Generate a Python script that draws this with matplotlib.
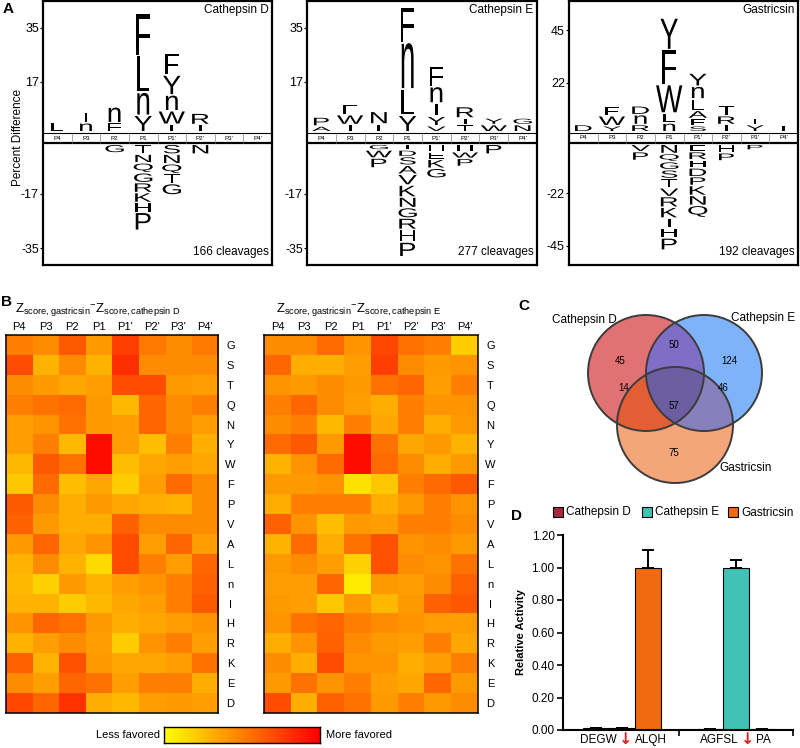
import numpy as np
import matplotlib
matplotlib.use("Agg")
import matplotlib.pyplot as plt
from matplotlib.textpath import TextPath
from matplotlib.patches import PathPatch, Rectangle, Circle
from matplotlib.font_manager import FontProperties
import matplotlib.transforms as mtrans

plt.rcParams['font.family'] = ['Liberation Sans', 'DejaVu Sans']
plt.rcParams['mathtext.fontset'] = 'custom'
plt.rcParams['mathtext.rm'] = 'Liberation Sans'
plt.rcParams['mathtext.it'] = 'Liberation Sans:italic'
plt.rcParams['mathtext.bf'] = 'Liberation Sans:bold'

# ---------------- DATA ----------------
positions = ["P4", "P3", "P2", "P1", "P1'", "P2'", "P3'", "P4'"]
logo_titles = ["Cathepsin D", "Cathepsin E", "Gastricsin"]
cleavage_counts = [166, 277, 192]
logo_tick_values = [[17, 35], [17, 35], [22, 45]]

# letters stacked from the band outward: (residue, percent)
catD_up = [[("L", 2.5)], [("n", 2.5), ("I", 3.0)], [("F", 2.5), ("n", 4.8)],
           [("Y", 5.0), ("n", 7.2), ("L", 11.7), ("F", 13.5)],
           [("I", 2.0), ("W", 4.0), ("n", 4.8), ("Y", 6.1), ("F", 6.9)],
           [("I", 1.9), ("R", 3.3)], [], []]
catD_down = [[], [], [("G", 2.4)],
             [("T", 2.8), ("N", 2.4), ("Q", 2.8), ("G", 2.8), ("R", 2.8), ("K", 2.8), ("H", 2.8), ("P", 5.5)],
             [("S", 2.8), ("N", 2.7), ("Q", 2.8), ("T", 2.8), ("G", 3.3)],
             [("N", 2.8)], [], []]
catE_up = [[("A", 1.4), ("P", 2.5)], [("I", 1.9), ("W", 2.8), ("F", 2.8)], [("I", 2.1), ("N", 3.7)],
           [("Y", 5.0), ("L", 8.3), ("n", 15.0), ("F", 11.1)],
           [("V", 1.5), ("Y", 2.7), ("I", 3.9), ("n", 5.0), ("F", 6.1)],
           [("T", 1.9), ("I", 1.7), ("R", 3.3)], [("W", 1.9), ("Y", 1.7)], [("N", 1.9), ("G", 1.7)]]
catE_down = [[], [], [("G", 1.4), ("W", 2.2), ("P", 2.8)],
             [("T", 1.4), ("D", 1.7), ("S", 2.4), ("A", 2.5), ("V", 3.1), ("K", 3.5), ("N", 3.0),
              ("G", 3.0), ("R", 3.3), ("H", 3.7), ("P", 4.4)],
             [("H", 2.0), ("E", 2.0), ("K", 2.5), ("G", 2.8)],
             [("H", 2.0), ("W", 1.7), ("P", 2.2)], [("P", 2.8)], []]
gast_up = [[("D", 2.5)], [("Y", 2.0), ("W", 3.7), ("F", 3.4)], [("R", 2.5), ("n", 3.7), ("D", 3.2)],
           [("n", 3.2), ("L", 3.7), ("W", 11.8), ("F", 14.7), ("Y", 13.2)],
           [("S", 2.0), ("F", 2.5), ("A", 2.9), ("L", 4.4), ("n", 4.9), ("Y", 5.1)],
           [("I", 2.5), ("R", 3.2), ("T", 4.1)], [("Y", 2.5), ("I", 2.0)], [("I", 2.0)]]
gast_down = [[], [], [("V", 2.6), ("P", 3.2)],
             [("N", 3.4), ("Q", 2.9), ("G", 2.9), ("S", 3.2), ("T", 3.4), ("V", 3.2), ("R", 4.0),
              ("K", 4.1), ("I", 3.7), ("H", 3.7), ("P", 4.7)],
             [("E", 2.6), ("R", 2.9), ("H", 2.9), ("D", 3.2), ("P", 3.2), ("K", 3.7), ("N", 3.7), ("Q", 4.7)],
             [("H", 3.1), ("P", 2.9)], [("P", 1.9)], []]

residues = list("GSTQNYWFPVALnIHRKED")
heat_titles = [r"$\mathregular{Z_{score,gastricsin}{}^{-}Z_{score,cathepsin\ D}}$",
               r"$\mathregular{Z_{score,gastricsin}{}^{-}Z_{score,cathepsin\ E}}$"]
hm_gast_catD = [
    [0.50, 0.45, 0.65, 0.40, 0.75, 0.52, 0.45, 0.52],
    [0.70, 0.30, 0.45, 0.30, 0.82, 0.45, 0.45, 0.45],
    [0.45, 0.40, 0.35, 0.38, 0.70, 0.70, 0.40, 0.38],
    [0.50, 0.55, 0.58, 0.40, 0.28, 0.60, 0.45, 0.50],
    [0.38, 0.42, 0.55, 0.40, 0.38, 0.60, 0.45, 0.38],
    [0.38, 0.50, 0.28, 0.95, 0.38, 0.25, 0.50, 0.32],
    [0.28, 0.65, 0.55, 0.95, 0.25, 0.35, 0.38, 0.35],
    [0.22, 0.58, 0.25, 0.35, 0.20, 0.38, 0.58, 0.45],
    [0.65, 0.45, 0.32, 0.40, 0.35, 0.32, 0.30, 0.45],
    [0.62, 0.40, 0.32, 0.32, 0.62, 0.45, 0.45, 0.45],
    [0.40, 0.60, 0.35, 0.42, 0.70, 0.38, 0.60, 0.38],
    [0.30, 0.45, 0.30, 0.15, 0.70, 0.50, 0.38, 0.60],
    [0.28, 0.18, 0.40, 0.30, 0.38, 0.42, 0.50, 0.62],
    [0.30, 0.30, 0.20, 0.28, 0.35, 0.38, 0.50, 0.65],
    [0.42, 0.60, 0.55, 0.40, 0.32, 0.35, 0.38, 0.42],
    [0.30, 0.38, 0.45, 0.38, 0.20, 0.42, 0.50, 0.38],
    [0.62, 0.30, 0.68, 0.40, 0.35, 0.35, 0.38, 0.55],
    [0.45, 0.38, 0.60, 0.55, 0.38, 0.50, 0.50, 0.32],
    [0.72, 0.60, 0.80, 0.32, 0.28, 0.38, 0.40, 0.38]]
hm_gast_catE = [
    [0.45, 0.45, 0.58, 0.42, 0.72, 0.55, 0.50, 0.20],
    [0.60, 0.32, 0.32, 0.38, 0.75, 0.45, 0.40, 0.42],
    [0.42, 0.40, 0.45, 0.40, 0.55, 0.60, 0.38, 0.50],
    [0.50, 0.60, 0.45, 0.38, 0.32, 0.50, 0.42, 0.42],
    [0.45, 0.50, 0.28, 0.50, 0.35, 0.50, 0.32, 0.40],
    [0.58, 0.65, 0.40, 0.95, 0.55, 0.35, 0.40, 0.30],
    [0.30, 0.42, 0.58, 0.95, 0.58, 0.45, 0.32, 0.40],
    [0.40, 0.40, 0.42, 0.12, 0.22, 0.50, 0.58, 0.65],
    [0.32, 0.50, 0.50, 0.50, 0.32, 0.40, 0.50, 0.42],
    [0.62, 0.42, 0.25, 0.40, 0.38, 0.50, 0.50, 0.45],
    [0.30, 0.58, 0.32, 0.55, 0.68, 0.42, 0.45, 0.40],
    [0.40, 0.45, 0.38, 0.18, 0.68, 0.45, 0.42, 0.55],
    [0.38, 0.38, 0.60, 0.08, 0.40, 0.38, 0.45, 0.62],
    [0.40, 0.38, 0.22, 0.40, 0.28, 0.40, 0.62, 0.66],
    [0.42, 0.55, 0.60, 0.50, 0.45, 0.42, 0.38, 0.38],
    [0.32, 0.42, 0.62, 0.45, 0.40, 0.38, 0.50, 0.35],
    [0.45, 0.32, 0.70, 0.42, 0.42, 0.32, 0.38, 0.50],
    [0.40, 0.55, 0.42, 0.50, 0.38, 0.35, 0.60, 0.40],
    [0.70, 0.32, 0.62, 0.55, 0.40, 0.50, 0.40, 0.45]]

venn_sets = ["Cathepsin D", "Cathepsin E", "Gastricsin"]
venn_counts = {"D": 45, "E": 124, "G": 75, "DE": 50, "DG": 14, "EG": 46, "DEG": 57}

enzymes = ["Cathepsin D", "Cathepsin E", "Gastricsin"]
enzyme_colors = ["#A52A3C", "#40C2B4", "#F06A10"]
substrates = [("DEGW", "ALQH"), ("AGFSL", "PA")]
activity = {"Cathepsin D": [0.010, 0.006], "Cathepsin E": [0.010, 1.00], "Gastricsin": [1.00, 0.006]}
activity_err = {"Cathepsin D": [0.004, 0.002], "Cathepsin E": [0.004, 0.045], "Gastricsin": [0.11, 0.002]}

# ---------------- FIGURE ----------------
W, H = 800, 748
fig = plt.figure(figsize=(8, 7.48), dpi=100)


def fig_axes(x0, y0, x1, y1):
    return fig.add_axes([x0 / W, 1 - y1 / H, (x1 - x0) / W, (y1 - y0) / H])


logo_fp = FontProperties(family='Liberation Sans')


def draw_letter(ax, ch, xc, ybot, h, wscale):
    tp = TextPath((0, 0), ch, size=1, prop=logo_fp)
    bb = tp.get_extents()
    w = max(bb.width, 0.1) * wscale
    tr = (mtrans.Affine2D().translate(-bb.x0, -bb.y0)
          .scale(w / bb.width, h / bb.height).translate(xc - w / 2, ybot))
    ax.add_patch(PathPatch(tr.transform_path(tp), fc='black', ec='none', lw=0))


# ---- Panel A ----
logo_boxes = [(43, 1, 272, 265), (307, 1, 537, 265), (569, 1, 798, 265)]
px_per_pct = [3.0, 3.0, 2.28]
ups = [catD_up, catE_up, gast_up]
downs = [catD_down, catE_down, gast_down]
for k in range(3):
    x0, y0, x1, y1 = logo_boxes[k]
    ax = fig_axes(x0, y0, x1, y1)
    s = px_per_pct[k]
    ax.set_xlim(0, 8)
    ax.set_ylim(-(y1 - 138) / s, (138 - y0) / s)
    b = 5 / s
    start = b + 2 / s
    gap = 1.5 / s
    wscale = 28 / ((x1 - x0) / 8)
    for i in range(8):
        y = start
        for ch, hgt in ups[k][i]:
            draw_letter(ax, ch, i + 0.5, y, hgt, wscale)
            y += hgt + gap
        y = -start
        for ch, hgt in downs[k][i]:
            draw_letter(ax, ch, i + 0.5, y - hgt, hgt, wscale)
            y -= hgt + gap
    ax.add_patch(Rectangle((0, -b), 8, 2 * b, fc='white', ec='none'))
    ax.plot([0, 8], [b, b], color='k', lw=0.8)
    ax.plot([0, 8], [-b, -b], color='k', lw=1.6)
    ax.vlines(np.arange(1, 8), -b, b, color='#888888', lw=0.5)
    for i, p in enumerate(positions):
        ax.text(i + 0.5, 0, p, ha='center', va='center', fontsize=4.5)
    t1, t2 = logo_tick_values[k]
    ax.set_yticks([-(t2 + b), -(t1 + b), t1 + b, t2 + b])
    ax.set_yticklabels([f"-{t2}", f"-{t1}", f"{t1}", f"{t2}"])
    ax.tick_params(axis='y', length=2, width=0.8, labelsize=9, pad=1)
    ax.set_xticks([])
    for sp in ax.spines.values():
        sp.set_linewidth(1.6)
    ax.text(0.985, 0.99, logo_titles[k], transform=ax.transAxes, ha='right', va='top', fontsize=8.5)
    ax.text(0.985, 0.025, f"{cleavage_counts[k]} cleavages", transform=ax.transAxes,
            ha='right', va='bottom', fontsize=8.5)

fig.text(18 / W, 1 - 137 / H, "Percent Difference", rotation=90, ha='center', va='center', fontsize=8.5)

# ---- Panel B ----
heat_boxes = [(6, 335, 218, 713), (264, 335, 478, 713)]
heat_data = [hm_gast_catD, hm_gast_catE]
title_x = [98, 359]
for k in range(2):
    ax = fig_axes(*heat_boxes[k])
    ax.imshow(np.array(heat_data[k]), cmap='autumn_r', vmin=0, vmax=1, aspect='auto', interpolation='nearest')
    ax.set_xticks(range(8))
    ax.set_xticklabels(positions, fontsize=8)
    ax.xaxis.tick_top()
    ax.set_yticks(range(len(residues)))
    ax.set_yticklabels(residues, fontsize=8)
    ax.yaxis.tick_right()
    ax.tick_params(length=0, pad=2)
    ax.tick_params(axis='y', pad=9)
    for lab in ax.get_yticklabels():
        lab.set_horizontalalignment('center')
    for sp in ax.spines.values():
        sp.set_linewidth(1.1)
    fig.text(title_x[k] / W, 1 - 312 / H, heat_titles[k], ha='center', va='baseline', fontsize=9.5)

cax = fig_axes(164, 727, 320, 743)
cax.imshow(np.linspace(0, 1, 256)[None, :], cmap='autumn_r', aspect='auto')
cax.set_xticks([])
cax.set_yticks([])
for sp in cax.spines.values():
    sp.set_linewidth(1.0)
fig.text(160 / W, 1 - 735 / H, "Less favored", ha='right', va='center', fontsize=8)
fig.text(326 / W, 1 - 735 / H, "More favored", ha='left', va='center', fontsize=8)

# ---- Panel D ----
axd = fig_axes(563, 535, 793, 730)
xg = np.arange(len(substrates))
bw = 0.23
for j, enz in enumerate(enzymes):
    xs = xg + (j - 1) * bw
    axd.bar(xs, activity[enz], width=bw, color=enzyme_colors[j], edgecolor='black', linewidth=0.8, zorder=2)
    axd.errorbar(xs, activity[enz], yerr=[np.zeros(len(xg)), activity_err[enz]], fmt='none',
                 ecolor='black', elinewidth=1.4, capsize=4, capthick=1.4, zorder=3)
axd.set_xlim(-0.52, 1.5)
axd.set_ylim(0, 1.2)
axd.set_yticks(np.arange(0, 1.21, 0.2))
axd.set_yticklabels([f"{v:.2f}" for v in np.arange(0, 1.21, 0.2)])
axd.tick_params(axis='y', labelsize=8.5, length=4, width=1.2, direction='out', pad=2)
axd.set_xticks([])
axd.set_xticks([0.5, 1.5], minor=True)
axd.tick_params(axis='x', which='minor', length=4, width=1.2)
axd.tick_params(axis='x', which='minor', labelbottom=False)
for sp in ['top', 'right']:
    axd.spines[sp].set_visible(False)
for sp in ['left', 'bottom']:
    axd.spines[sp].set_linewidth(1.5)
axd.set_ylabel("Relative Activity", fontsize=8, fontweight='bold', labelpad=4)
arrow_off = [0.03, 0.10]
for g, (left, right) in enumerate(substrates):
    xa = xg[g] + arrow_off[g]
    kw = dict(xycoords=('data', 'axes fraction'), textcoords='offset points', va='center')
    axd.annotate(left, xy=(xa, 0), xytext=(-6.5, -7), ha='right', fontsize=8.5, **kw)
    axd.annotate("\u2193", xy=(xa, 0), xytext=(0, -7), ha='center', color='#E0201C',
                 fontweight='bold', fontsize=11.5, family='DejaVu Sans', **kw)
    axd.annotate(right, xy=(xa, 0), xytext=(6.5, -7), ha='left', fontsize=8.5, **kw)

# ---- overlay (pixel coords): Venn, legend, panel letters ----
ov = fig.add_axes([0, 0, 1, 1])
ov.axis('off')
r = 58
cen = {"D": (646, 373), "E": (704, 373), "G": (675, 425)}
xs = np.linspace(580, 770, 950)
ys = np.linspace(305, 495, 950)
X, Y = np.meshgrid(xs, ys)
inside = {k: (X - c[0]) ** 2 + (Y - c[1]) ** 2 <= r ** 2 for k, c in cen.items()}
region_colors = {"D": "#E27275", "E": "#7EB3FA", "G": "#F5A679", "DE": "#7F6FC6",
                 "DG": "#E35E35", "EG": "#8880BC", "DEG": "#6C5EA2"}
img = np.zeros(X.shape + (4,))
for key, col in region_colors.items():
    mask = np.ones(X.shape, bool)
    for s_ in "DEG":
        mask &= inside[s_] if s_ in key else ~inside[s_]
    img[mask] = matplotlib.colors.to_rgba(col)
ov.imshow(img, extent=(580, 770, 495, 305), origin='upper', aspect='auto', interpolation='antialiased')
for c in cen.values():
    ov.add_patch(Circle(c, r, fill=False, ec='#3C3C3C', lw=1.4))
count_pos = {"D": (-26, -12), "E": (25, -12), "G": (-1, 28), "DE": (-1, -28),
             "DG": (-37, -11), "EG": (34, -11), "DEG": (-1, 16)}
for key, (dx, dy) in count_pos.items():
    ox = np.mean([cen[s_][0] for s_ in key])
    oy = np.mean([cen[s_][1] for s_ in key])
    if len(key) == 1:
        ox, oy = cen[key]
    ov.text(ox + dx, oy + dy, str(venn_counts[key]), ha='center', va='center', fontsize=7)
ov.text(584, 320, venn_sets[0], ha='center', va='center', fontsize=8.5)
ov.text(795, 318, venn_sets[1], ha='right', va='center', fontsize=8.5)
ov.text(719, 468, venn_sets[2], ha='left', va='center', fontsize=8.5)

leg_x = [553, 642, 728]
for j, enz in enumerate(enzymes):
    ov.add_patch(Rectangle((leg_x[j], 507), 10, 10, fc=enzyme_colors[j], ec='black', lw=0.8))
    ov.text(leg_x[j] + 13, 512.5, enz, ha='left', va='center', fontsize=8.5)

for lab, (px, py) in {"A": (8, 9), "B": (7, 302), "C": (524, 306), "D": (516, 516)}.items():
    ov.text(px, py, lab, ha='center', va='center', fontsize=11, fontweight='bold')

ov.set_xlim(0, W)
ov.set_ylim(H, 0)

fig.savefig("out.png", dpi=100)
